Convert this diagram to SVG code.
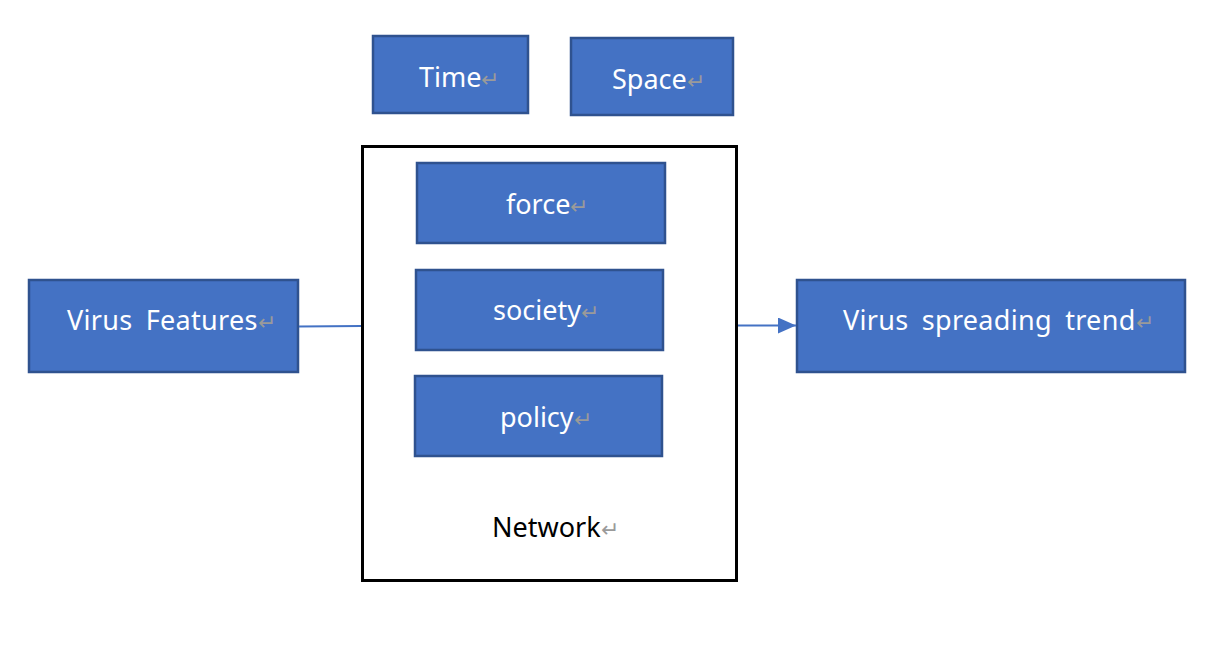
<svg xmlns="http://www.w3.org/2000/svg" width="1225" height="647" viewBox="0 0 1225 647">
<defs>
<style>
.box{fill:#4472C4;stroke:#2F528F;stroke-width:2.5}
.t{font-family:"Noto Sans","Open Sans",sans-serif;font-size:27px;fill:#FFFFFF}
.k{fill:#000000}
.ws{word-spacing:6px;letter-spacing:0.3px}
.pm{fill:#9A9A9A;font-size:22px;letter-spacing:0}
.conn{stroke:#4472C4;stroke-width:2;fill:none}
</style>
<marker id="arr" markerWidth="18" markerHeight="16" refX="18" refY="8" orient="auto" markerUnits="userSpaceOnUse" viewBox="0 0 18 16">
<path d="M0,0 L18,8 L0,16 z" fill="#4472C4"/>
</marker>
</defs>
<rect width="1225" height="647" fill="#FFFFFF"/>
<g id="network">
<rect x="362.5" y="146.5" width="374" height="434" fill="#FFFFFF" stroke="#000000" stroke-width="3"/>
<text class="t k" x="492" y="537">Network<tspan class="pm">↵</tspan></text>
</g>
<g id="time">
<rect class="box" x="373" y="36" width="155" height="77"/>
<text class="t" x="419" y="87">Time<tspan class="pm">↵</tspan></text>
</g>
<g id="space">
<rect class="box" x="571" y="38" width="162" height="77"/>
<text class="t" x="612" y="89">Space<tspan class="pm">↵</tspan></text>
</g>
<g id="force">
<rect class="box" x="417" y="163" width="248" height="80"/>
<text class="t" x="506" y="214">force<tspan class="pm">↵</tspan></text>
</g>
<g id="society">
<rect class="box" x="416" y="270" width="247" height="80"/>
<text class="t" x="493" y="320">society<tspan class="pm">↵</tspan></text>
</g>
<g id="policy">
<rect class="box" x="415" y="376" width="247" height="80"/>
<text class="t" x="500" y="427">policy<tspan class="pm">↵</tspan></text>
</g>
<g id="virus-features">
<rect class="box" x="29" y="280" width="269" height="92"/>
<text class="t ws" x="67" y="330">Virus Features<tspan class="pm">↵</tspan></text>
</g>
<g id="virus-trend">
<rect class="box" x="797" y="280" width="388" height="92"/>
<text class="t ws" x="843" y="330">Virus spreading trend<tspan class="pm">↵</tspan></text>
</g>
<g id="connectors">
<line class="conn" x1="299" y1="326.5" x2="361" y2="326"/>
<line class="conn" x1="738" y1="325.5" x2="796" y2="325.5" marker-end="url(#arr)"/>
</g>
</svg>
